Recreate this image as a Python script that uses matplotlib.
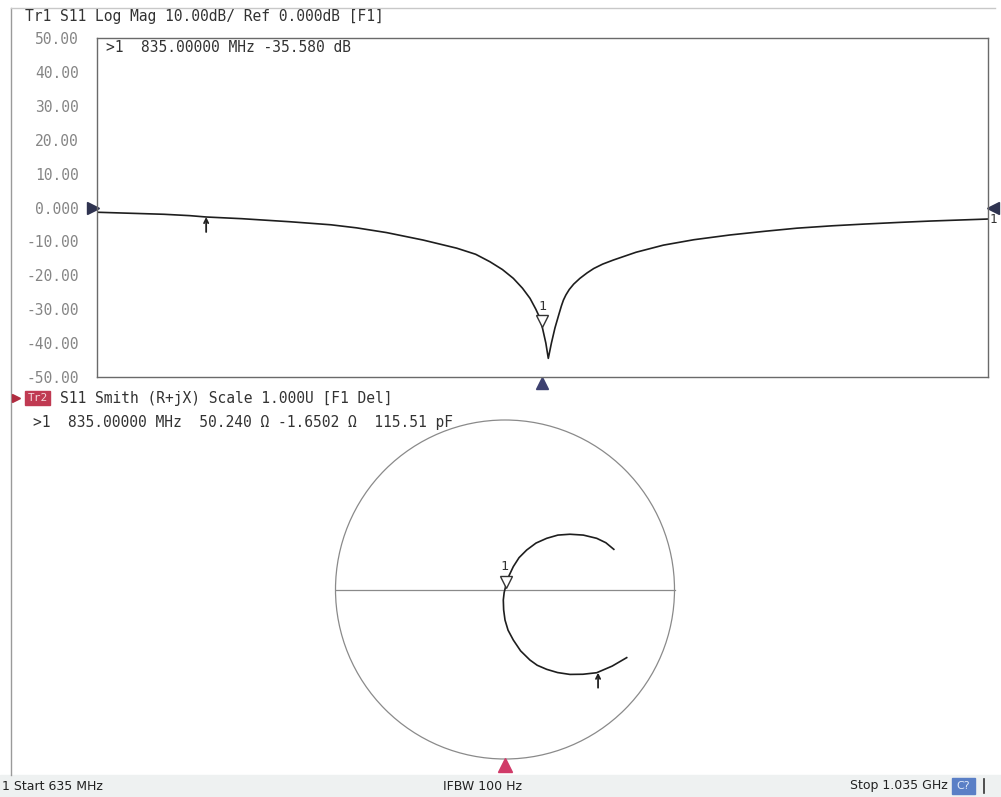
import numpy as np
import matplotlib
matplotlib.use("Agg")
import matplotlib.pyplot as plt
from matplotlib.lines import Line2D
from matplotlib.patches import Rectangle, Circle
from matplotlib.transforms import offset_copy

# S11 log mag trace (MHz, dB)
freq_mhz = [635, 650, 665, 676.6, 684, 700, 721.6, 740, 751.5, 765, 781.4, 796.5,
            805, 811.4, 817, 821.9, 826, 829.4, 832, 833.9, 835, 836.5, 837.6,
            839, 840.6, 842.5, 843.5, 844.4, 845.5, 847, 849, 851.8, 855, 858, 862,
            866.8, 877, 889.3, 903, 919.2, 935, 949.2, 965, 979.1, 995, 1009, 1022, 1035]
s11_db = [-1.4, -1.7, -2.0, -2.4, -2.8, -3.3, -4.2, -5.1, -6.0, -7.4, -9.6, -12.0,
          -13.8, -16.0, -18.3, -20.9, -23.8, -26.8, -30.0, -32.7, -35.6, -40.0, -44.5,
          -40.0, -35.5, -31.2, -29.0, -27.3, -25.8, -24.2, -22.6, -20.9, -19.3, -18.0, -16.7,
          -15.5, -13.2, -11.1, -9.5, -8.1, -7.0, -6.1, -5.4, -4.9, -4.4, -4.0, -3.7, -3.4]

# S11 on the Smith chart (reflection coefficient, start -> stop)
gamma_re = [0.718, 0.632, 0.541, 0.460, 0.383, 0.310, 0.246, 0.190, 0.147, 0.092,
            0.049, 0.018, 0.000, -0.008, -0.010, -0.005, 0.006, 0.024, 0.049, 0.083,
            0.128, 0.183, 0.246, 0.312, 0.383, 0.462, 0.541, 0.595, 0.642]
gamma_im = [-0.402, -0.452, -0.491, -0.500, -0.501, -0.490, -0.471, -0.447, -0.416,
            -0.362, -0.298, -0.240, -0.180, -0.120, -0.062, -0.018, 0.027, 0.082,
            0.135, 0.188, 0.233, 0.274, 0.302, 0.321, 0.326, 0.321, 0.302, 0.276, 0.237]

db_ticks = [50, 40, 30, 20, 10, 0, -10, -20, -30, -40, -50]
db_tick_labels = ["50.00", "40.00", "30.00", "20.00", "10.00", "0.000",
                  "-10.00", "-20.00", "-30.00", "-40.00", "-50.00"]

# markers
mk1_freq, mk1_db = 835, -35.6
ref_freq, ref_db = 684, -2.8
mk1_gamma = (0.006, 0.005)
ref_gamma = (0.549, -0.491)

W, H = 1001, 797
def fx(px):
    return px / W
def fy(py):
    return 1 - py / H

mono = "DejaVu Sans Mono"
arrow_props = dict(arrowstyle="->,head_length=0.3,head_width=0.15",
                   color="#222222", lw=1.3, shrinkA=0, shrinkB=0)

fig = plt.figure(figsize=(W / 100, H / 100), dpi=100)
fig.patch.set_facecolor("white")

# outer frame
fig.add_artist(Line2D([fx(11), fx(11)], [fy(8), fy(775)], color="#9a9a9a", lw=1))
fig.add_artist(Line2D([fx(11), fx(995)], [fy(8), fy(8)], color="#c8c8c8", lw=1))

# ---- Log Mag plot ----
ax1 = fig.add_axes([fx(97), fy(377), fx(988) - fx(97), fy(38) - fy(377)])
ax1.plot(freq_mhz, s11_db, color="#1e1e1e", lw=1.2)
ax1.set_xlim(635, 1035)
ax1.set_ylim(-50, 50)
ax1.set_xticks([])
ax1.set_yticks(db_ticks)
ax1.set_yticklabels(db_tick_labels, family=mono, fontsize=10.5, color="#858585")
ax1.tick_params(axis="y", length=0, pad=13)
for s in ax1.spines.values():
    s.set_color("#6a6a6a")
    s.set_linewidth(1)

# marker 1 on the trace
tri_off = offset_copy(ax1.transData, fig, x=0, y=7, units="dots")
ax1.plot([mk1_freq], [mk1_db], marker="v", ms=8, mfc="white", mec="#333333",
         mew=1, transform=tri_off, clip_on=False)
ax1.annotate("1", (mk1_freq, mk1_db), xytext=(0, 22), textcoords="offset pixels",
             ha="center", va="center", family=mono, fontsize=9.5, color="#333333")
# reference arrow marker
ax1.annotate("", (ref_freq, ref_db), xytext=(0, -15), textcoords="offset pixels",
             arrowprops=arrow_props)
# active marker position below the axis
ax1.plot([mk1_freq], [-50], marker="^", ms=9, color="#3d4170",
         transform=offset_copy(ax1.transData, fig, x=0, y=-6, units="dots"),
         clip_on=False)
# reference level arrows
ax1.plot([635], [0], marker=">", ms=9, color="#2f3350",
         transform=offset_copy(ax1.transData, fig, x=-4, y=0, units="dots"),
         clip_on=False)
ax1.plot([1035], [0], marker="<", ms=9, color="#2f3350",
         transform=offset_copy(ax1.transData, fig, x=5, y=0, units="dots"),
         clip_on=False)
ax1.annotate("1", (1035, -3.4), xytext=(5, 0), textcoords="offset pixels",
             ha="center", va="center", family=mono, fontsize=9, color="#333333")

fig.text(fx(25), fy(17), "Tr1 S11 Log Mag 10.00dB/ Ref 0.000dB [F1]",
         family=mono, fontsize=10.5, color="#333333", va="center")
fig.text(fx(106), fy(48), ">1  835.00000 MHz -35.580 dB",
         family=mono, fontsize=10.5, color="#333333", va="center")

# ---- Smith chart ----
ax2 = fig.add_axes([fx(335.5), fy(759), 339 / W, 339 / H])
ax2.set_xlim(-1, 1)
ax2.set_ylim(-1, 1)
ax2.axis("off")
ax2.add_patch(Circle((0, 0), 1, fill=False, ec="#8a8a8a", lw=0.9, clip_on=False))
ax2.plot([-1, 1], [0, 0], color="#8a8a8a", lw=0.9, clip_on=False)
ax2.plot(gamma_re, gamma_im, color="#1e1e1e", lw=1.2)
ax2.plot([mk1_gamma[0]], [mk1_gamma[1]], marker="v", ms=8, mfc="white",
         mec="#333333", mew=1, clip_on=False,
         transform=offset_copy(ax2.transData, fig, x=0, y=7, units="dots"))
ax2.annotate("1", mk1_gamma, xytext=(-2, 22), textcoords="offset pixels",
             ha="center", va="center", family=mono, fontsize=9.5, color="#333333")
ax2.annotate("", ref_gamma, xytext=(0, -15), textcoords="offset pixels",
             arrowprops=arrow_props)
ax2.plot([0], [-1], marker="^", ms=10, color="#d03a68", clip_on=False,
         transform=offset_copy(ax2.transData, fig, x=0, y=-6, units="dots"))

# Tr2 header
fig.add_artist(Line2D([fx(16)], [fy(398)], marker=">", ms=6, color="#b02c40"))
fig.add_artist(Rectangle((fx(25), fy(405)), fx(50) - fx(25), fy(391) - fy(405),
                         color="#c03a52", transform=fig.transFigure))
fig.text(fx(37.5), fy(398), "Tr2", family=mono, fontsize=8, color="#f4d8dc",
         ha="center", va="center")
fig.text(fx(60), fy(398), "S11 Smith (R+jX) Scale 1.000U [F1 Del]",
         family=mono, fontsize=10.5, color="#333333", va="center")
fig.text(fx(33), fy(423), ">1  835.00000 MHz  50.240 \u03a9 -1.6502 \u03a9  115.51 pF",
         family=mono, fontsize=10.5, color="#333333", va="center")

# ---- status bar ----
fig.add_artist(Rectangle((0, 0), 1, fy(775), color="#eef1f1",
                         transform=fig.transFigure, zorder=0))
fig.text(fx(2), fy(786), "1 Start 635 MHz", fontsize=9, color="#222222", va="center")
fig.text(fx(443), fy(786), "IFBW 100 Hz", fontsize=9, color="#222222", va="center")
fig.text(fx(850), fy(786), "Stop 1.035 GHz", fontsize=9, color="#222222", va="center")
fig.add_artist(Rectangle((fx(952), fy(794)), fx(975) - fx(952), fy(778) - fy(794),
                         color="#5a7fc6", transform=fig.transFigure))
fig.text(fx(963.5), fy(786), "C?", fontsize=8, color="#dfe8f8", ha="center", va="center")
fig.add_artist(Line2D([fx(984), fx(984)], [fy(779), fy(793)], color="#333333", lw=1.2))

fig.savefig("out.png", dpi=100, facecolor="white")
